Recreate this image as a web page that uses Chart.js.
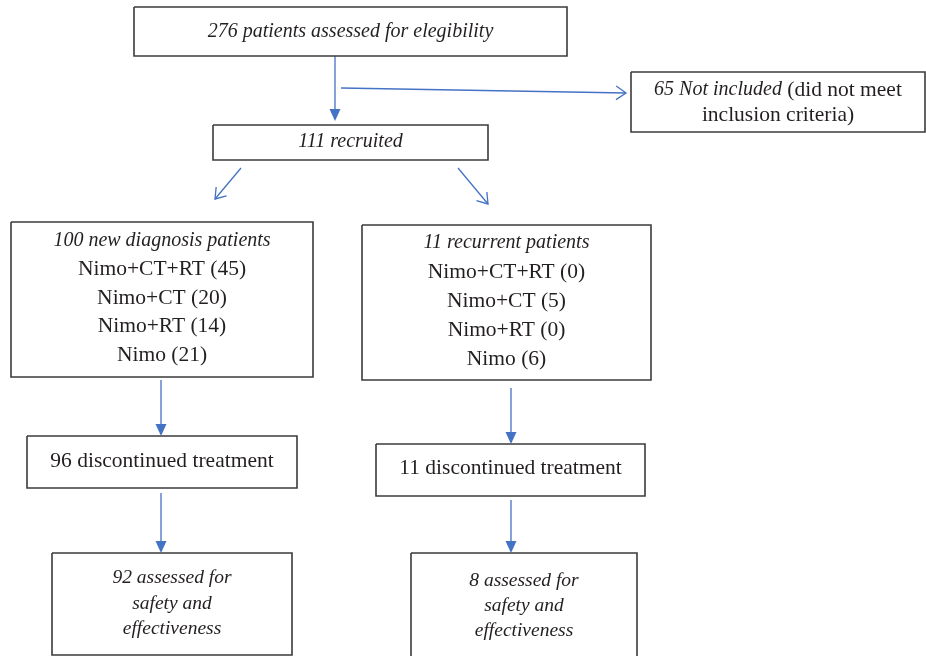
<!DOCTYPE html>
<html>
<head>
<meta charset="utf-8">
<script src="https://cdn.jsdelivr.net/npm/chart.js@4"></script>
<style>
  html, body { margin: 0; padding: 0; background: #fff; }
  #flow { display: block; }
</style>
</head>
<body>
<canvas id="flow" width="926" height="656"></canvas>
<script>
// Flowchart content (each line is a list of [text, italic] pieces)
const boxText = [
  [[["276 patients assessed for elegibility", true]]],
  [[["65 Not included", true], [" (did not meet", false]], [["inclusion criteria)", false]]],
  [[["111 recruited", true]]],
  [[["100 new diagnosis patients", true]], [["Nimo+CT+RT (45)", false]], [["Nimo+CT (20)", false]], [["Nimo+RT (14)", false]], [["Nimo (21)", false]]],
  [[["11 recurrent patients", true]], [["Nimo+CT+RT (0)", false]], [["Nimo+CT (5)", false]], [["Nimo+RT (0)", false]], [["Nimo (6)", false]]],
  [[["96 discontinued treatment", false]]],
  [[["11 discontinued treatment", false]]],
  [[["92 assessed for", true]], [["safety and", true]], [["effectiveness", true]]],
  [[["8 assessed for", true]], [["safety and", true]], [["effectiveness", true]]]
];

// box corners in chart units [left, top, right, bottom]
const boxRects = [
  [134, 7, 567, 56],
  [631, 72, 925, 132],
  [213, 125, 488, 160],
  [11, 222, 313, 377],
  [362, 225, 651, 380],
  [27, 436, 297, 488],
  [376, 444, 645, 496],
  [52, 553, 292, 655],
  [411, 553, 637, 660]
];

// first text line centre and line gap for each box
const textTop = [32, 90, 142, 241, 243, 461, 468, 578, 581];
const textGap = [0, 25, 0, 28.6, 29, 0, 0, 25.5, 25];

// arrows [x1, y1, x2, y2], filled or open head
const arrows = [
  [335, 56, 335, 121],
  [341, 88, 626, 93],
  [241, 168, 215, 199],
  [458, 168, 488, 204],
  [161, 380, 161, 436],
  [511, 388, 511, 444],
  [161, 493, 161, 553],
  [511, 500, 511, 553]
];
const arrowFilled = [true, false, false, false, true, true, true, true];

const boxColor = "#3b3b3b";
const arrowColor = "#4472c4";

const datasets = [];
boxRects.forEach(function (r) {
  datasets.push({
    data: [{x: r[0], y: r[1]}, {x: r[2], y: r[1]}, {x: r[2], y: r[3]}, {x: r[0], y: r[3]}, {x: r[0], y: r[1]}],
    showLine: true,
    borderColor: boxColor,
    borderWidth: 1.6,
    borderJoinStyle: "miter",
    pointRadius: 0,
    tension: 0
  });
});
arrows.forEach(function (a, i) {
  // stop the shaft a little short when the head is a filled triangle
  let x2 = a[2], y2 = a[3];
  if (arrowFilled[i]) {
    const len = Math.hypot(a[2] - a[0], a[3] - a[1]);
    x2 = a[2] - (a[2] - a[0]) / len * 8;
    y2 = a[3] - (a[3] - a[1]) / len * 8;
  }
  datasets.push({
    data: [{x: a[0], y: a[1]}, {x: x2, y: y2}],
    showLine: true,
    borderColor: arrowColor,
    borderWidth: 1.3,
    pointRadius: 0,
    tension: 0
  });
});

function fontFor(italic, box) {
  let size = italic ? 20 : 21.5;
  if (italic && box >= 7) size = 19.5;
  return (italic ? "italic " : "") + size + "px 'Liberation Serif', serif";
}

// draws arrow heads and the box texts
const flowPlugin = {
  id: "flowPlugin",
  afterDatasetsDraw(chart) {
    const ctx = chart.ctx;
    const xs = chart.scales.x, ys = chart.scales.y;
    ctx.save();

    arrows.forEach(function (a, i) {
      const x1 = xs.getPixelForValue(a[0]), y1 = ys.getPixelForValue(a[1]);
      const x2 = xs.getPixelForValue(a[2]), y2 = ys.getPixelForValue(a[3]);
      const ang = Math.atan2(y2 - y1, x2 - x1);
      ctx.strokeStyle = arrowColor;
      ctx.fillStyle = arrowColor;
      if (arrowFilled[i]) {
        const L = 12, W = 5.5;
        ctx.beginPath();
        ctx.moveTo(x2, y2);
        ctx.lineTo(x2 - L * Math.cos(ang) + W * Math.sin(ang), y2 - L * Math.sin(ang) - W * Math.cos(ang));
        ctx.lineTo(x2 - L * Math.cos(ang) - W * Math.sin(ang), y2 - L * Math.sin(ang) + W * Math.cos(ang));
        ctx.closePath();
        ctx.fill();
      } else {
        const L = 12, spread = 0.6;
        ctx.lineWidth = 1.3;
        ctx.beginPath();
        ctx.moveTo(x2 - L * Math.cos(ang - spread), y2 - L * Math.sin(ang - spread));
        ctx.lineTo(x2, y2);
        ctx.lineTo(x2 - L * Math.cos(ang + spread), y2 - L * Math.sin(ang + spread));
        ctx.stroke();
      }
    });

    ctx.fillStyle = "#231f20";
    ctx.textBaseline = "middle";
    ctx.textAlign = "left";
    boxText.forEach(function (lines, b) {
      const r = boxRects[b];
      const cx = xs.getPixelForValue((r[0] + r[2]) / 2);
      lines.forEach(function (pieces, li) {
        const y = ys.getPixelForValue(textTop[b] + li * textGap[b]);
        let total = 0;
        pieces.forEach(function (p) {
          ctx.font = fontFor(p[1], b);
          total += ctx.measureText(p[0]).width;
        });
        let x = cx - total / 2;
        pieces.forEach(function (p) {
          ctx.font = fontFor(p[1], b);
          ctx.fillText(p[0], x, y);
          x += ctx.measureText(p[0]).width;
        });
      });
    });
    ctx.restore();
  }
};

new Chart(document.getElementById("flow").getContext("2d"), {
  type: "scatter",
  data: { datasets: datasets },
  options: {
    responsive: false,
    animation: false,
    layout: { padding: 0 },
    plugins: { legend: { display: false }, tooltip: { enabled: false } },
    scales: {
      x: { type: "linear", min: 0, max: 926, display: false },
      y: { type: "linear", min: 0, max: 656, reverse: true, display: false }
    }
  },
  plugins: [flowPlugin]
});
</script>
</body>
</html>
